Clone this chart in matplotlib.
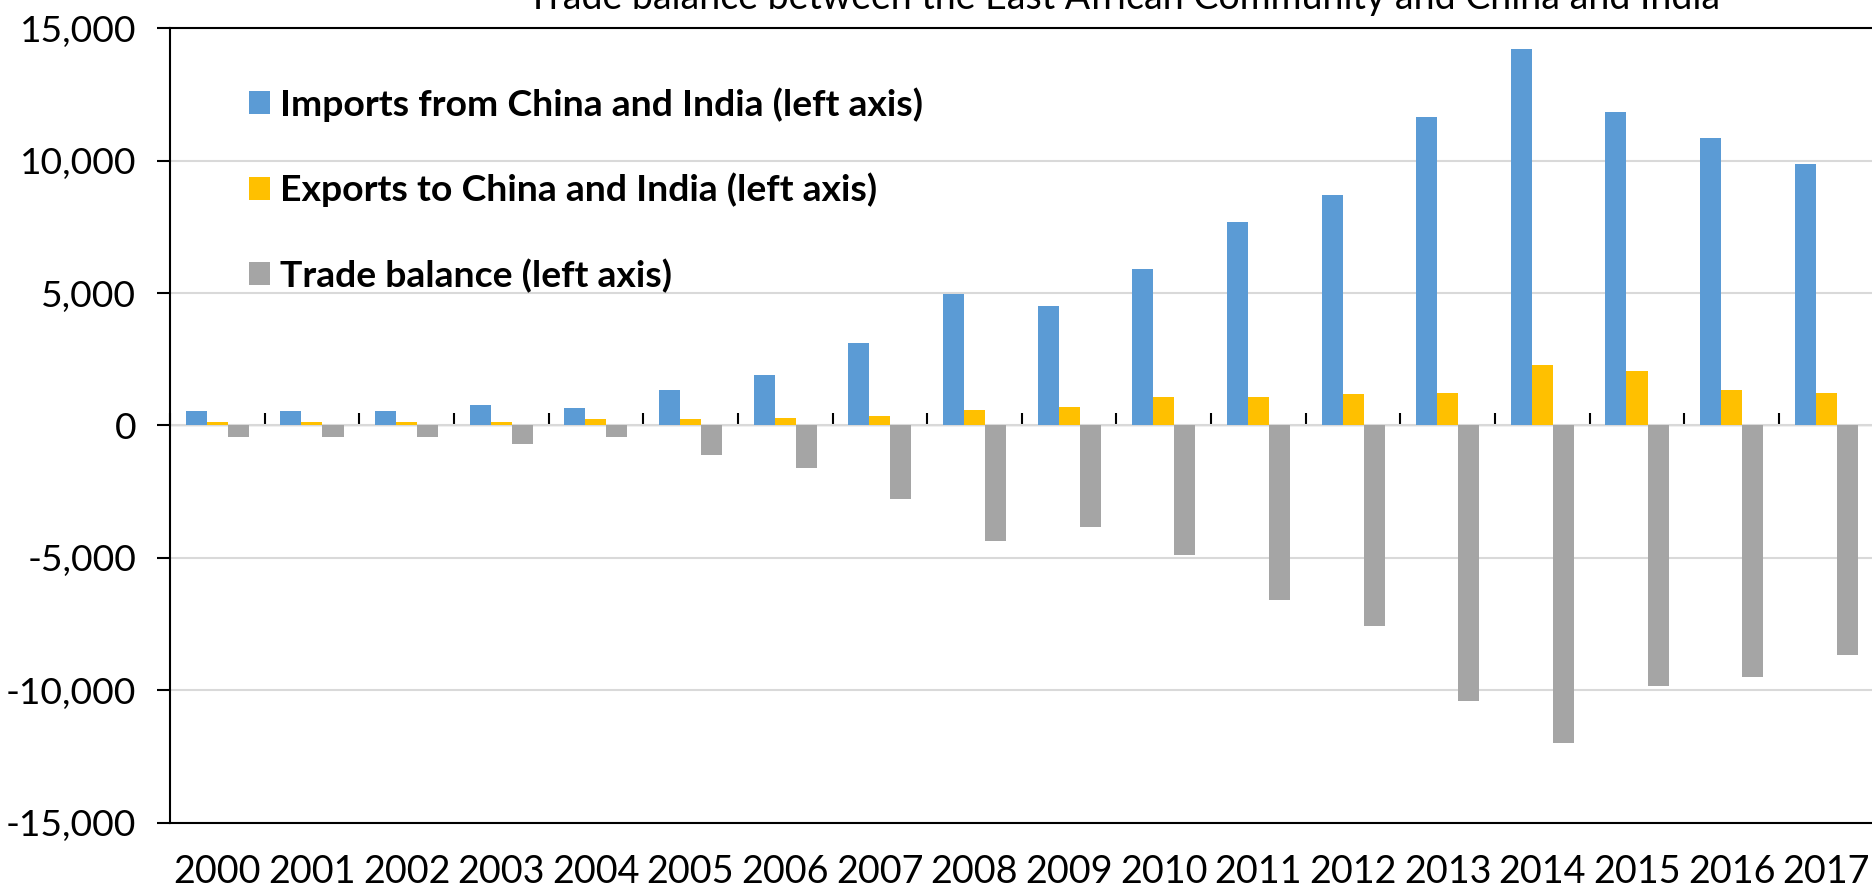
import matplotlib
matplotlib.use("Agg")
import matplotlib.pyplot as plt
from matplotlib.patches import Patch
from matplotlib.ticker import FuncFormatter, MultipleLocator
import numpy as np

# EAC trade with China and India, USD million
years = [str(y) for y in range(2000, 2018)]
imports = [542, 542, 542, 769, 643, 1323, 1890, 3120, 4960, 4515,
           5925, 7675, 8715, 11640, 14230, 11840, 10845, 9885]
exports = [126, 126, 126, 126, 239, 239, 277, 340, 591, 704,
           1069, 1069, 1196, 1234, 2267, 2040, 1335, 1234]
balance = [-428, -428, -428, -693, -428, -1109, -1600, -2780, -4365, -3824,
           -4894, -6605, -7569, -10415, -11990, -9849, -9508, -8665]

labels = ["Imports from China and India (left axis)",
          "Exports to China and India (left axis)",
          "Trade balance (left axis)"]
colors = ["#5B9BD5", "#FFC000", "#A5A5A5"]

plt.rcParams['font.family'] = ['Lato', 'DejaVu Sans']

W, H = 1872, 889
fig = plt.figure(figsize=(W / 100, H / 100), dpi=100)
ax = fig.add_axes([170 / W, 1 - 822.5 / H, 1703.6 / W, (822.5 - 28.3) / H])

x = np.arange(len(years))
w = 1 / 4.5
for k, (vals, col, lab) in enumerate(zip([imports, exports, balance], colors, labels)):
    ax.bar(x + (k - 1) * w, vals, width=w, color=col, label=lab, zorder=2, linewidth=0)

ax.set_xlim(-0.5, len(years) - 0.5)
ax.set_ylim(-15000, 15000)
ax.yaxis.set_major_locator(MultipleLocator(5000))
ax.yaxis.set_major_formatter(FuncFormatter(lambda v, p: f"{v:,.0f}"))
ax.grid(axis='y', color='#D9D9D9', linewidth=1.5, zorder=0)
ax.set_axisbelow(True)

ax.set_xticks(x)
ax.set_xticklabels(years)
ax.tick_params(axis='x', length=0, pad=23, labelsize=27.2)
ax.tick_params(axis='y', direction='out', length=9.4, width=1.5, pad=15, labelsize=26.8)

for side in ['left', 'top', 'bottom']:
    ax.spines[side].set_color('black')
    ax.spines[side].set_linewidth(1.5)
ax.spines['right'].set_visible(False)

# category axis line at zero with tick marks between years
zero = ax.secondary_xaxis(0.5)
zero.set_xticks(np.arange(len(years) + 1) - 0.5, labels=[])
zero.tick_params(direction='out', length=9, width=1.5,
                 labelbottom=False, labeltop=False)
zero.spines['bottom'].set_linewidth(1.5)
zero.spines['bottom'].set_color('black')

handles = [Patch(facecolor=c, edgecolor='none') for c in colors]
ax.legend(handles, labels, loc='upper left', bbox_to_anchor=(249 / W, 1 - 87 / H),
          bbox_transform=fig.transFigure, frameon=False, borderpad=0, borderaxespad=0,
          prop={'weight': 'bold', 'size': 26.9}, handlelength=0.56, handleheight=0.56,
          handletextpad=0.26, labelspacing=1.37)

fig.text(1124 / W, 1 - 9 / H,
         "Trade balance between the East African Community and China and India",
         ha='center', va='baseline', fontsize=27)

fig.savefig("out.png", dpi=100)
